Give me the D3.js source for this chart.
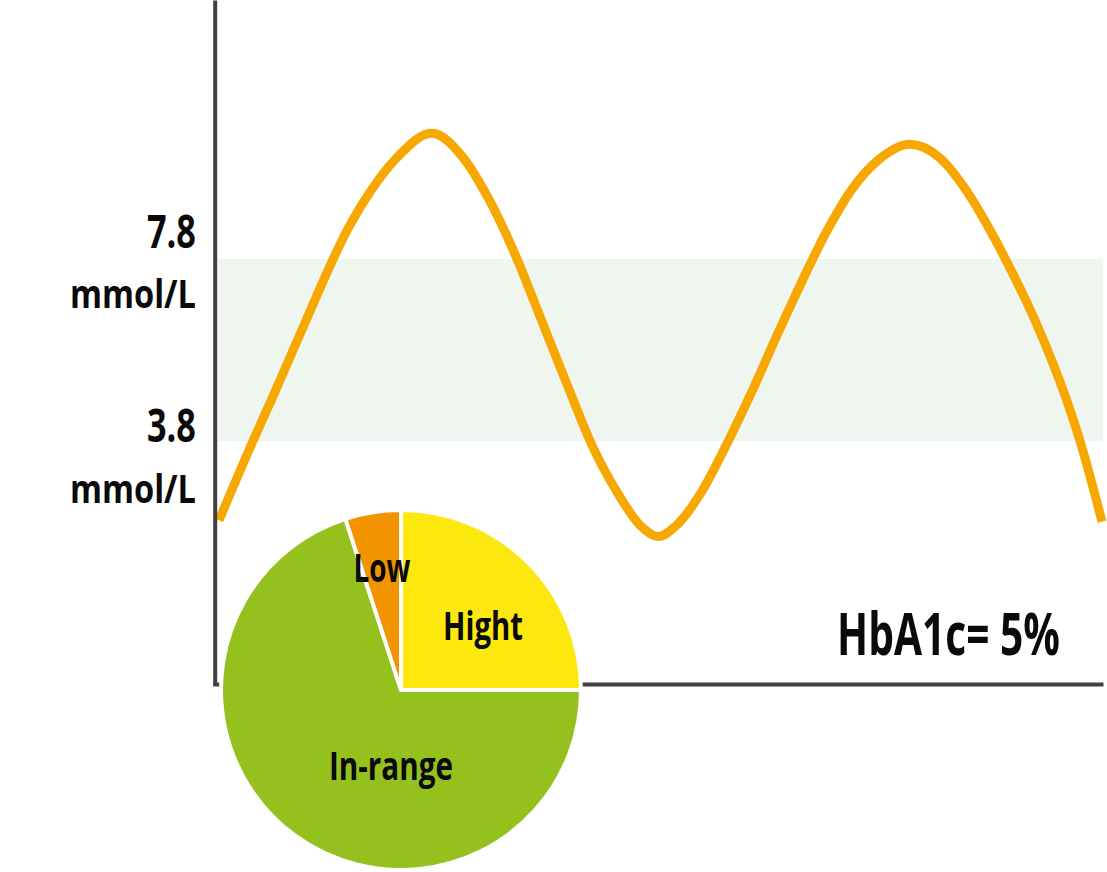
<!DOCTYPE html>
<html>
<head>
<meta charset="utf-8">
<script src="https://cdn.jsdelivr.net/npm/d3@7"></script>
<style>
  html, body { margin: 0; padding: 0; background: #fff; }
  svg { display: block; }
  text { font-family: "Open Sans", "Liberation Sans", sans-serif; font-weight: bold; fill: #0a0a0a; }
</style>
</head>
<body>
<svg id="chart" width="1107" height="872"></svg>
<script>
// ---- data ----
const timePoints = [0, 3.85, 6.34, 9.63, 14.84, 17.10, 20.12, 24.09, 27.67, 30.12, 32.02, 33.75, 36.73, 39.75, 42.02, 45.04, 47.68, 49.75, 51.83, 54.67, 57.68, 60.33, 63.73, 69.23, 71.49, 74.89, 78.22, 81.69, 84.71, 86.98, 89.05, 92.64, 95.66, 97.51, 100];
const glucose    = [2.06, 3.80, 4.88, 6.35, 8.55, 9.27, 10.02, 10.56, 10.02, 9.27, 8.55, 7.80, 6.35, 4.88, 3.80, 2.69, 1.95, 1.70, 1.95, 2.69, 3.80, 4.88, 6.35, 8.55, 9.28, 10.01, 10.32, 10.01, 9.28, 8.55, 7.80, 6.35, 4.88, 3.80, 2.03];
const rangeBounds = [3.8, 7.8];
const tickLabels = ["7.8", "3.8"];
const unitLabel = "mmol/L";
const pieCategories = ["Hight", "In-range", "Low"];
const pieValues = [25, 70, 5];
const pieColors = ["#fce80f", "#95c11f", "#f29400"];
const hba1cLabel = "HbA1c= 5%";

// ---- helpers ----
function fitText(parent, str, size, width, px, py, anchor) {
  const t = parent.append("text").attr("font-size", size).attr("x", 0).attr("y", 0).text(str);
  const w = t.node().getBBox().width;
  const s = width / w;
  let dx = px;
  if (anchor === "end") dx = px - width;
  else if (anchor === "middle") dx = px - width / 2;
  t.attr("transform", `translate(${dx},${py}) scale(${s},1)`);
  return t;
}

// ---- scales ----
const svg = d3.select("#chart");
const x = d3.scaleLinear().domain([0, 100]).range([219, 1102]);
const y = d3.scaleLinear().domain([-1.54, 13.49]).range([684, 0]);

// in-range band
svg.append("rect")
  .attr("x", 218)
  .attr("y", y(rangeBounds[1]))
  .attr("width", 1103 - 218)
  .attr("height", y(rangeBounds[0]) - y(rangeBounds[1]))
  .attr("fill", "#eff6ef");

// glucose curve
const pts = timePoints.map((t, i) => [t, glucose[i]]);
svg.append("path")
  .datum(pts)
  .attr("fill", "none")
  .attr("stroke", "#f7a800")
  .attr("stroke-width", 9)
  .attr("d", d3.line().x(d => x(d[0])).y(d => y(d[1])).curve(d3.curveMonotoneX));

// axes (lines only)
const yAxisG = svg.append("g").attr("transform", "translate(214.7,0)")
  .call(d3.axisLeft(y).tickValues([]).tickSize(0).tickSizeOuter(0));
yAxisG.select(".domain").attr("stroke", "#404040").attr("stroke-width", 4);
const xAxis = d3.scaleLinear().domain([0, 100]).range([212.7, 1103]);
const xAxisG = svg.append("g").attr("transform", "translate(0,684)")
  .call(d3.axisBottom(xAxis).tickValues([]).tickSize(0).tickSizeOuter(0));
xAxisG.select(".domain").attr("stroke", "#404040").attr("stroke-width", 4);

// y labels
const numOffsets = [-11, 1];
const unitOffsets = [49, 62];
rangeBounds.slice().reverse().forEach((v, i) => {
  fitText(svg, tickLabels[i], 46, 49, 196, y(v) + numOffsets[i], "end");
  fitText(svg, unitLabel, 38.5, 126, 196, y(v) + unitOffsets[i], "end");
});

// HbA1c label
fitText(svg, hba1cLabel, 58.5, 223, 837, 655, "start");

// pie
const cx = 401, cy = 690, R = 180;
const pie = d3.pie().sort(null).value(d => d)(pieValues);
const arc = d3.arc().innerRadius(0).outerRadius(R);
const pg = svg.append("g").attr("transform", `translate(${cx},${cy})`);
pg.selectAll("path").data(pie).join("path")
  .attr("d", arc)
  .attr("fill", (d, i) => pieColors[i])
  .attr("stroke", "#fff")
  .attr("stroke-width", 4)
  .attr("stroke-linejoin", "miter");

const labelPos = [[82, -50], [-10, 90], [-19, -108]];
const labelWidths = [80, 124, 57];
pieCategories.forEach((c, i) => {
  fitText(pg, c, 39, labelWidths[i], labelPos[i][0], labelPos[i][1], "middle");
});
</script>
</body>
</html>
